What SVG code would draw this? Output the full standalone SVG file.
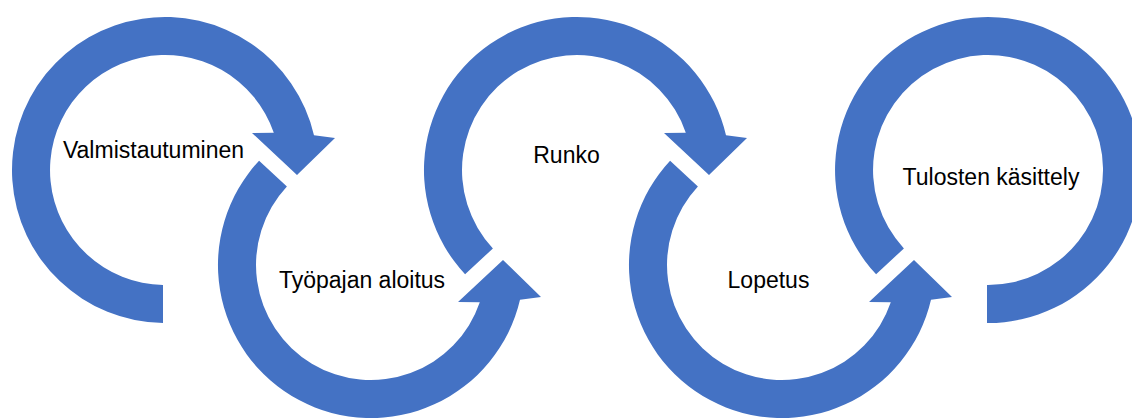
<svg xmlns="http://www.w3.org/2000/svg" width="1132" height="419" viewBox="0 0 1132 419">
<style>
.arrow{fill:#4472C4;stroke:none}
.lbl{font-family:"Liberation Sans",Arial,sans-serif;font-size:23px;fill:#000;text-anchor:middle}
</style>
<rect width="1132" height="419" fill="#fff"/>
<g id="connectors">
<path id="arc1" class="arrow" d="M163 323 A153 153 0 1 1 314 135.3 L335 138 L297 175 L252 133 L273.8 132.7 A115 115 0 1 0 163 285 Z"/>
<path id="arc2" class="arrow" d="M259.1 160.7 A153 153 0 1 0 520 299.7 L541 297 L503 260 L458 302 L479.8 302.3 A115 115 0 1 1 286.9 186.6 Z"/>
<path id="arc3" class="arrow" d="M465.1 274.3 A153 153 0 1 1 726 135.3 L747 138 L709 175 L664 133 L685.8 132.7 A115 115 0 1 0 492.9 248.4 Z"/>
<path id="arc4" class="arrow" d="M670.1 160.7 A153 153 0 1 0 931 299.7 L952 297 L914 260 L869 302 L890.8 302.3 A115 115 0 1 1 697.9 186.6 Z"/>
<path id="arc5" class="arrow" d="M876.1 274.3 A153 153 0 1 1 987 323 L987 285 A115 115 0 1 0 903.9 248.4 Z"/>
</g>
<g id="node1"><text class="lbl" x="153.5" y="158">Valmistautuminen</text></g>
<g id="node2"><text class="lbl" x="362" y="288">Työpajan aloitus</text></g>
<g id="node3"><text class="lbl" x="566.5" y="163">Runko</text></g>
<g id="node4"><text class="lbl" x="768.5" y="288">Lopetus</text></g>
<g id="node5"><text class="lbl" x="991" y="185">Tulosten käsittely</text></g>
</svg>
